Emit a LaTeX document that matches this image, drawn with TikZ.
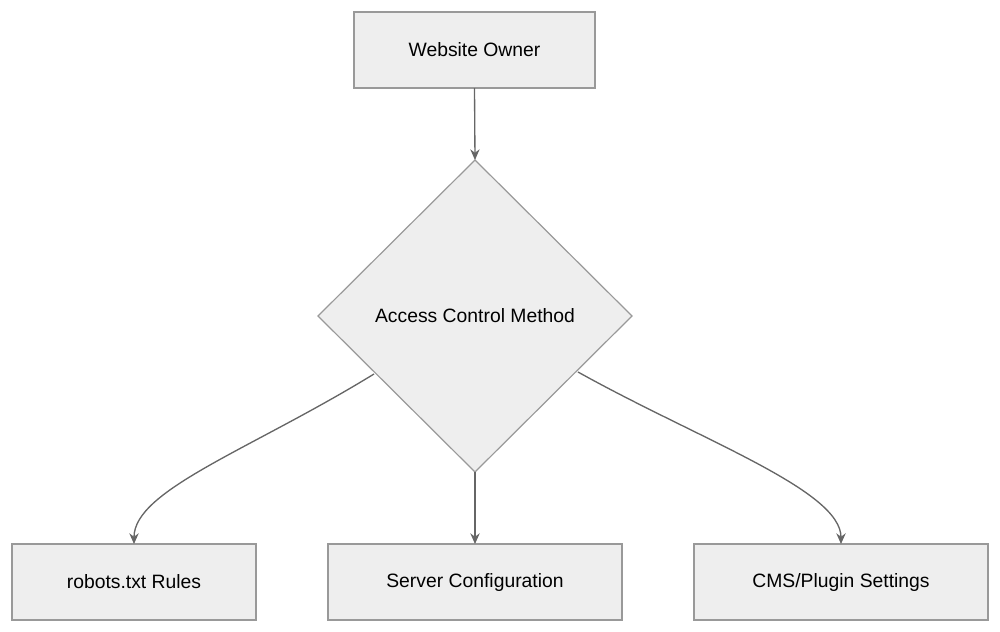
\documentclass[tikz,border=0pt]{standalone}
\usepackage{fontspec}
\setmainfont{Liberation Sans}
\usetikzlibrary{arrows.meta}
\definecolor{fillc}{HTML}{EEEEEE}
\definecolor{strokec}{HTML}{999999}
\definecolor{edgec}{HTML}{666666}
\begin{document}
\begin{tikzpicture}[x=0.75pt,y=-0.75pt,
  box/.style={draw=strokec,fill=fillc,line width=0.9pt},
  lbl/.style={font=\fontsize{14.5pt}{16pt}\selectfont},
  edge/.style={draw=edgec,line width=1pt,-{Stealth[length=8pt,width=7pt]}}]
\useasboundingbox (0,0) rectangle (1000,632);
\draw[box] (354,12) rectangle (595,88);
\node[lbl] (owner) at (474.5,50) {Website Owner};
\coordinate (ownerB) at (474.5,88);
\draw[box] (475,160) -- (632,316) -- (475,472) -- (318,316) -- cycle;
\node[lbl] (acm) at (475,316) {Access Control Method};
\coordinate (dT) at (475,160);
\coordinate (dB) at (475,472);
\coordinate (dL) at (374,374);
\coordinate (dR) at (578,372);
\draw[box] (12,544) rectangle (256,620);
\node[lbl] (robots) at (134,582) {robots.txt Rules};
\draw[box] (328,544) rectangle (622,620);
\node[lbl] (server) at (475,582) {Server Configuration};
\draw[box] (694,544) rectangle (988,620);
\node[lbl] (cms) at (841,582) {CMS/Plugin Settings};
\coordinate (rT) at (134,544);
\coordinate (sT) at (475,544);
\coordinate (cT) at (841,544);
\draw[edge] (ownerB) -- (dT);
\draw[edge] (dB) -- (sT);
\draw[edge] (dL) .. controls (250,450) and (134,490) .. (rT);
\draw[edge] (dR) .. controls (700,440) and (841,490) .. (cT);
\end{tikzpicture}
\end{document}
